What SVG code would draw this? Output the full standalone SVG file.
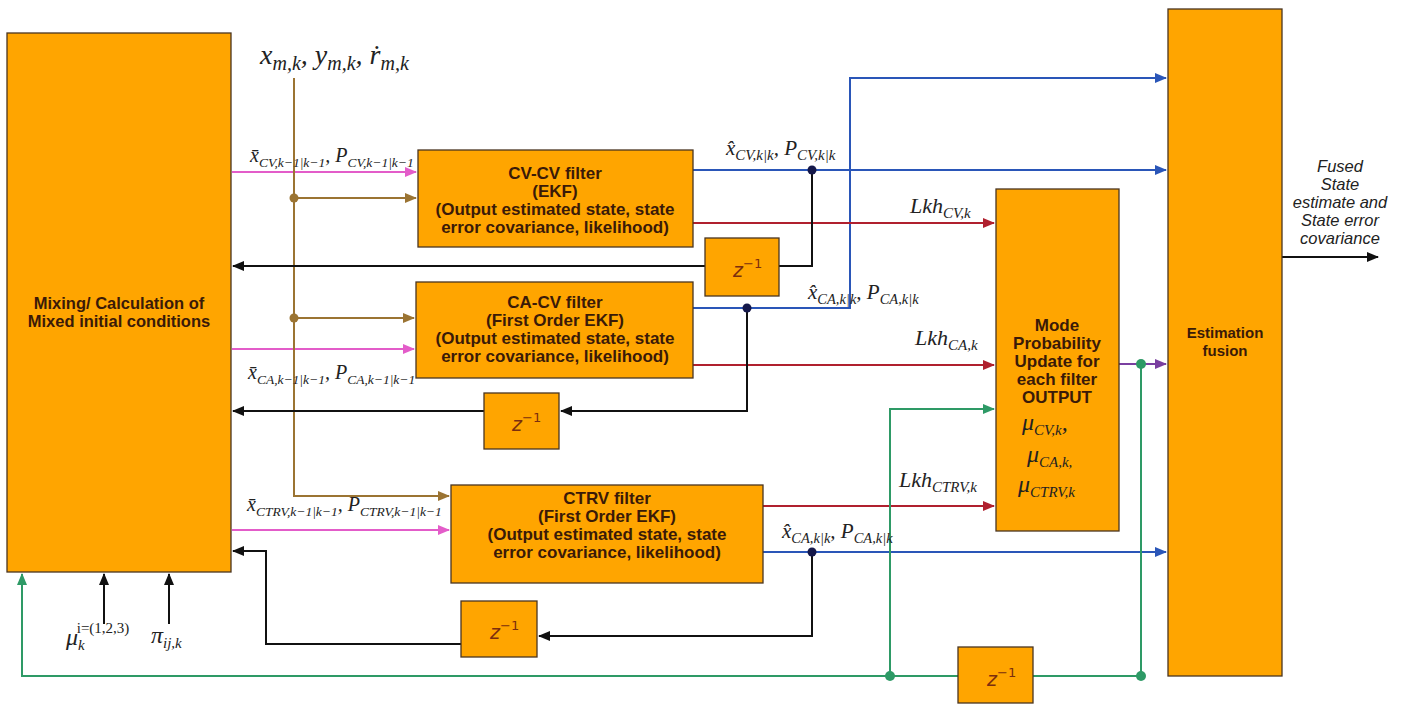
<svg xmlns="http://www.w3.org/2000/svg" width="1408" height="704" viewBox="0 0 1408 704">
<style>
.box{fill:#FFA500;stroke:#4a3520;stroke-width:1.3}
.bt{font-family:"Liberation Sans",Arial,sans-serif;font-weight:bold;font-size:17px;fill:#3a1a08;text-anchor:middle}
.it{font-family:"Liberation Sans",Arial,sans-serif;font-style:italic;font-size:16.5px;fill:#222;text-anchor:middle}
.m{font-family:"Liberation Serif","Times New Roman",serif;font-style:italic;font-size:20px;fill:#222}
.s{font-size:13.5px}
.z{font-family:"DejaVu Sans",Verdana,sans-serif;font-style:italic;font-size:19px;fill:#7a2e0e}
.zs{font-size:13px;font-style:normal}
.ln{fill:none;stroke-width:2}
.pink{stroke:#E35CC9}.brown{stroke:#9B7433}.blue{stroke:#2A56B8}.red{stroke:#B0202E}
.blk{stroke:#111}.grn{stroke:#2E9A66}.pur{stroke:#7A3FA0}
</style>
<defs>
<marker id="aPink" markerWidth="12" markerHeight="10" refX="11" refY="5" orient="auto" markerUnits="userSpaceOnUse"><path d="M0,0L12,5L0,10z" fill="#E35CC9"/></marker>
<marker id="aBrown" markerWidth="12" markerHeight="10" refX="11" refY="5" orient="auto" markerUnits="userSpaceOnUse"><path d="M0,0L12,5L0,10z" fill="#9B7433"/></marker>
<marker id="aBlue" markerWidth="12" markerHeight="10" refX="11" refY="5" orient="auto" markerUnits="userSpaceOnUse"><path d="M0,0L12,5L0,10z" fill="#2A56B8"/></marker>
<marker id="aRed" markerWidth="12" markerHeight="10" refX="11" refY="5" orient="auto" markerUnits="userSpaceOnUse"><path d="M0,0L12,5L0,10z" fill="#B0202E"/></marker>
<marker id="aBlk" markerWidth="12" markerHeight="10" refX="11" refY="5" orient="auto" markerUnits="userSpaceOnUse"><path d="M0,0L12,5L0,10z" fill="#111"/></marker>
<marker id="aGrn" markerWidth="12" markerHeight="10" refX="11" refY="5" orient="auto" markerUnits="userSpaceOnUse"><path d="M0,0L12,5L0,10z" fill="#2E9A66"/></marker>
<marker id="aPur" markerWidth="12" markerHeight="10" refX="11" refY="5" orient="auto" markerUnits="userSpaceOnUse"><path d="M0,0L12,5L0,10z" fill="#7A3FA0"/></marker>
</defs>
<rect width="1408" height="704" fill="#fff"/>

<g id="connectors">
<path class="ln pink" d="M232,172H416" marker-end="url(#aPink)"/>
<path class="ln pink" d="M232,349H414" marker-end="url(#aPink)"/>
<path class="ln pink" d="M232,530H449" marker-end="url(#aPink)"/>
<path class="ln brown" d="M294,78V496H449" marker-end="url(#aBrown)"/>
<path class="ln brown" d="M294,198H416" marker-end="url(#aBrown)"/>
<path class="ln brown" d="M294,318H414" marker-end="url(#aBrown)"/>
<path class="ln blue" d="M693,170H1166" marker-end="url(#aBlue)"/>
<path class="ln blue" d="M693,308H850V78H1166" marker-end="url(#aBlue)"/>
<path class="ln blue" d="M763,552H1166" marker-end="url(#aBlue)"/>
<path class="ln red" d="M693,223H994" marker-end="url(#aRed)"/>
<path class="ln red" d="M693,365H994" marker-end="url(#aRed)"/>
<path class="ln red" d="M763,506H994" marker-end="url(#aRed)"/>
<path class="ln blk" d="M812,170V266H779"/>
<path class="ln blk" d="M705,266H233" marker-end="url(#aBlk)"/>
<path class="ln blk" d="M747,308V411H561" marker-end="url(#aBlk)"/>
<path class="ln blk" d="M484,411H233" marker-end="url(#aBlk)"/>
<path class="ln blk" d="M812,552V636H539" marker-end="url(#aBlk)"/>
<path class="ln blk" d="M461,644H266V551H233" marker-end="url(#aBlk)"/>
<path class="ln blk" d="M104,624V574" marker-end="url(#aBlk)"/>
<path class="ln blk" d="M169,624V574" marker-end="url(#aBlk)"/>
<path class="ln blk" d="M1282,257H1378" marker-end="url(#aBlk)"/>
<path class="ln pur" d="M1119,364H1166" marker-end="url(#aPur)"/>
<path class="ln grn" d="M1141,364V676H1033"/>
<path class="ln grn" d="M958,676H22V574" marker-end="url(#aGrn)"/>
<path class="ln grn" d="M890,676V409H994" marker-end="url(#aGrn)"/>
<circle cx="294" cy="198" r="4.5" fill="#9B7433"/>
<circle cx="294" cy="318" r="4.5" fill="#9B7433"/>
<circle cx="812" cy="170" r="4.5" fill="#15184a"/>
<circle cx="747" cy="308" r="4.5" fill="#15184a"/>
<circle cx="812" cy="552" r="4.5" fill="#15184a"/>
<circle cx="1141" cy="364" r="5" fill="#2E9A66"/>
<circle cx="1141" cy="676" r="5" fill="#2E9A66"/>
<circle cx="890" cy="676" r="5" fill="#2E9A66"/>
</g>

<g id="mixing">
<rect class="box" x="7" y="33" width="224" height="539"/>
<text class="bt" x="119" y="309" style="font-size:16.5px">Mixing/ Calculation of</text>
<text class="bt" x="119" y="327" style="font-size:16.5px">Mixed initial conditions</text>
</g>

<g id="cv-filter">
<rect class="box" x="418" y="150" width="275" height="97"/>
<text class="bt" x="555" y="179">CV-CV filter</text>
<text class="bt" x="555" y="197">(EKF)</text>
<text class="bt" x="555" y="215">(Output estimated state, state</text>
<text class="bt" x="555" y="233">error covariance, likelihood)</text>
</g>

<g id="ca-filter">
<rect class="box" x="416" y="282" width="277" height="96"/>
<text class="bt" x="555" y="308">CA-CV filter</text>
<text class="bt" x="555" y="326">(First Order EKF)</text>
<text class="bt" x="555" y="344">(Output estimated state, state</text>
<text class="bt" x="555" y="362">error covariance, likelihood)</text>
</g>

<g id="ctrv-filter">
<rect class="box" x="451" y="485" width="312" height="98"/>
<text class="bt" x="607" y="504">CTRV filter</text>
<text class="bt" x="607" y="522">(First Order EKF)</text>
<text class="bt" x="607" y="540">(Output estimated state, state</text>
<text class="bt" x="607" y="558">error covariance, likelihood)</text>
</g>

<g id="z-cv">
<rect class="box" x="705" y="238" width="74" height="58"/>
<text class="z" x="733" y="277">z<tspan class="zs" dy="-9">−1</tspan></text>
</g>
<g id="z-ca">
<rect class="box" x="484" y="393" width="75" height="56"/>
<text class="z" x="512" y="431">z<tspan class="zs" dy="-9">−1</tspan></text>
</g>
<g id="z-ctrv">
<rect class="box" x="461" y="601" width="76" height="56"/>
<text class="z" x="490" y="639">z<tspan class="zs" dy="-9">−1</tspan></text>
</g>
<g id="z-mode">
<rect class="box" x="958" y="647" width="75" height="56"/>
<text class="z" x="987" y="686">z<tspan class="zs" dy="-9">−1</tspan></text>
</g>

<g id="mode-prob">
<rect class="box" x="996" y="189" width="123" height="342"/>
<text class="bt" x="1057" y="331">Mode</text>
<text class="bt" x="1057" y="349">Probability</text>
<text class="bt" x="1057" y="367">Update for</text>
<text class="bt" x="1057" y="385">each filter</text>
<text class="bt" x="1057" y="403">OUTPUT</text>
<text class="m" x="1022" y="430" style="font-size:24px">μ<tspan class="s" dy="5" style="font-size:15px">CV,k</tspan><tspan dy="-5">,</tspan></text>
<text class="m" x="1027" y="462" style="font-size:24px">μ<tspan class="s" dy="5" style="font-size:15px">CA,k,</tspan></text>
<text class="m" x="1018" y="492" style="font-size:24px">μ<tspan class="s" dy="5" style="font-size:15px">CTRV,k</tspan></text>
</g>

<g id="estimation-fusion">
<rect class="box" x="1168" y="9" width="114" height="667"/>
<text class="bt" x="1225" y="338" style="font-size:15px">Estimation</text>
<text class="bt" x="1225" y="356" style="font-size:15px">fusion</text>
</g>

<g id="labels">
<text class="m" x="260" y="64" style="font-size:28px">x<tspan dy="6" style="font-size:20px">m,k</tspan><tspan dy="-6">, y</tspan><tspan dy="6" style="font-size:20px">m,k</tspan><tspan dy="-6">, ṙ</tspan><tspan dy="6" style="font-size:20px">m,k</tspan></text>
<text class="m" x="250" y="162">x̄<tspan class="s" dy="5">CV,k−1|k−1</tspan><tspan dy="-5">, P</tspan><tspan class="s" dy="5">CV,k−1|k−1</tspan></text>
<text class="m" x="248" y="379">x̄<tspan class="s" dy="5">CA,k−1|k−1</tspan><tspan dy="-5">, P</tspan><tspan class="s" dy="5">CA,k−1|k−1</tspan></text>
<text class="m" x="247" y="511">x̄<tspan class="s" dy="5">CTRV,k−1|k−1</tspan><tspan dy="-5">, P</tspan><tspan class="s" dy="5">CTRV,k−1|k−1</tspan></text>
<text class="m" x="726" y="155" style="font-size:21px">x̂<tspan class="s" dy="5" style="font-size:15px">CV,k|k</tspan><tspan dy="-5">, P</tspan><tspan class="s" dy="5" style="font-size:15px">CV,k|k</tspan></text>
<text class="m" x="808" y="299" style="font-size:21px">x̂<tspan class="s" dy="5" style="font-size:14.5px">CA,k|k</tspan><tspan dy="-5">, P</tspan><tspan class="s" dy="5" style="font-size:14.5px">CA,k|k</tspan></text>
<text class="m" x="782" y="538" style="font-size:21px">x̂<tspan class="s" dy="5" style="font-size:14.5px">CA,k|k</tspan><tspan dy="-5">, P</tspan><tspan class="s" dy="5" style="font-size:14.5px">CA,k|k</tspan></text>
<text class="m" x="910" y="213" style="font-size:22px">Lkh<tspan class="s" dy="5" style="font-size:15px">CV,k</tspan></text>
<text class="m" x="915" y="345" style="font-size:22px">Lkh<tspan class="s" dy="5" style="font-size:15px">CA,k</tspan></text>
<text class="m" x="899" y="487" style="font-size:22px">Lkh<tspan class="s" dy="5" style="font-size:15px">CTRV,k</tspan></text>
<text class="m" x="66" y="645" style="font-size:24px">μ<tspan dy="5" style="font-size:15px">k</tspan><tspan dx="-8" dy="-17" style="font-size:15px;font-style:normal">i=(1,2,3)</tspan></text>
<text class="m" x="151" y="643" style="font-size:24px">π<tspan dy="5" style="font-size:15px">ij,k</tspan></text>
<text class="it" x="1340" y="172">Fused</text>
<text class="it" x="1340" y="190">State</text>
<text class="it" x="1340" y="208">estimate and</text>
<text class="it" x="1340" y="226">State error</text>
<text class="it" x="1340" y="244">covariance</text>
</g>
</svg>
